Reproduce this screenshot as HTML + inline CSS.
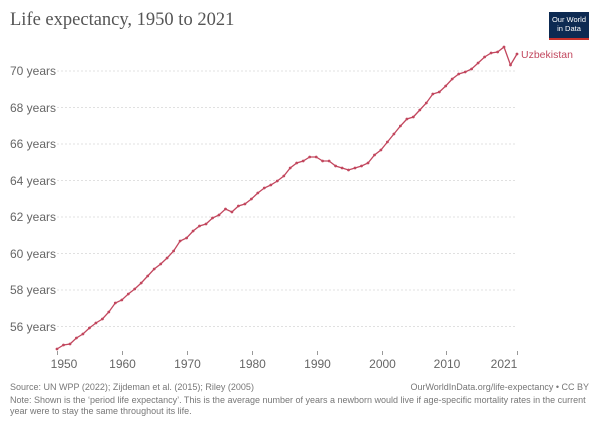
<!DOCTYPE html>
<html><head><meta charset="utf-8"><style>
body{margin:0;background:#fff;width:600px;height:424px;overflow:hidden}
svg{font-family:"Liberation Sans",sans-serif}
</style></head><body>
<svg id="s" width="600" height="424" xmlns="http://www.w3.org/2000/svg">
<text x="10" y="25" font-family="Liberation Serif,serif" font-size="18.5" fill="#555">Life expectancy, 1950 to 2021</text>
<rect x="549" y="12" width="40" height="28" fill="#0d2a52"/>
<rect x="549" y="38" width="40" height="2" fill="#c8312b"/>
<text x="569" y="22" font-size="7.5" fill="#fff" text-anchor="middle">Our World</text>
<text x="569" y="31" font-size="7.5" fill="#fff" text-anchor="middle">in Data</text>
<g stroke="#e0e0e0" stroke-dasharray="2,2" stroke-width="1">
<line x1="57" x2="517" y1="71" y2="71"/><line x1="57" x2="517" y1="107.5" y2="107.5"/>
<line x1="57" x2="517" y1="144" y2="144"/><line x1="57" x2="517" y1="180.5" y2="180.5"/>
<line x1="57" x2="517" y1="217" y2="217"/><line x1="57" x2="517" y1="253.5" y2="253.5"/>
<line x1="57" x2="517" y1="290" y2="290"/><line x1="57" x2="517" y1="326.5" y2="326.5"/>
</g>
<g font-size="12" fill="#666">
<text x="10" y="75">70 years</text><text x="10" y="112">68 years</text>
<text x="10" y="148">66 years</text><text x="10" y="185">64 years</text>
<text x="10" y="221">62 years</text><text x="10" y="258">60 years</text>
<text x="10" y="294">58 years</text><text x="10" y="331">56 years</text>
</g>
<g stroke="#999" stroke-width="1">
<line x1="57.5" x2="57.5" y1="351" y2="355"/><line x1="122.5" x2="122.5" y1="351" y2="355"/>
<line x1="187.5" x2="187.5" y1="351" y2="355"/><line x1="252.5" x2="252.5" y1="351" y2="355"/>
<line x1="317.5" x2="317.5" y1="351" y2="355"/><line x1="382.5" x2="382.5" y1="351" y2="355"/>
<line x1="446.5" x2="446.5" y1="351" y2="355"/><line x1="517.5" x2="517.5" y1="351" y2="355"/>
</g>
<g font-size="12" fill="#666" text-anchor="middle">
<text x="64" y="368">1950</text><text x="122.5" y="368">1960</text><text x="187.5" y="368">1970</text>
<text x="252.5" y="368">1980</text><text x="317.5" y="368">1990</text><text x="382.5" y="368">2000</text>
<text x="447" y="368">2010</text><text x="504" y="368">2021</text>
</g>
<text x="521" y="58" font-size="10.5" fill="#c2475e">Uzbekistan</text>
<g font-size="9" fill="#777">
<text x="10" y="390">Source: UN WPP (2022); Zijdeman et al. (2015); Riley (2005)</text>
<text x="589" y="390" text-anchor="end">OurWorldInData.org/life-expectancy • CC BY</text>
<text x="10" y="403">Note: Shown is the ‘period life expectancy’. This is the average number of years a newborn would live if age-specific mortality rates in the current</text>
<text x="10" y="414">year were to stay the same throughout its life.</text>
</g>
<polyline id="ln" fill="none" stroke="#c2475e" stroke-width="1.3" points=""/>
<g id="dots" fill="#c2475e"></g>
</svg>
<script>
var ys=[349,345,344,338,334,328,323,319,312,303,300,294,289,283,276,269,264,258,251,241,238,231,226,224,218,215,209,212,206,204,199,193,188,185,181,176,168,163,161,157,157,161,161,166,168,170,168,166,163,155,150,142,134,126,119,117,110,103,94,92,86,79,74,72,69,63,57,53,52,47,65,54];
var p=[],d='';
for(var i=0;i<ys.length;i++){var x=57+i*460/71;p.push(x.toFixed(1)+','+ys[i]);d+='<circle cx="'+x.toFixed(1)+'" cy="'+ys[i]+'" r="1.4"/>';}
document.getElementById('ln').setAttribute('points',p.join(' '));
document.getElementById('dots').innerHTML=d;
</script>
</body></html>
